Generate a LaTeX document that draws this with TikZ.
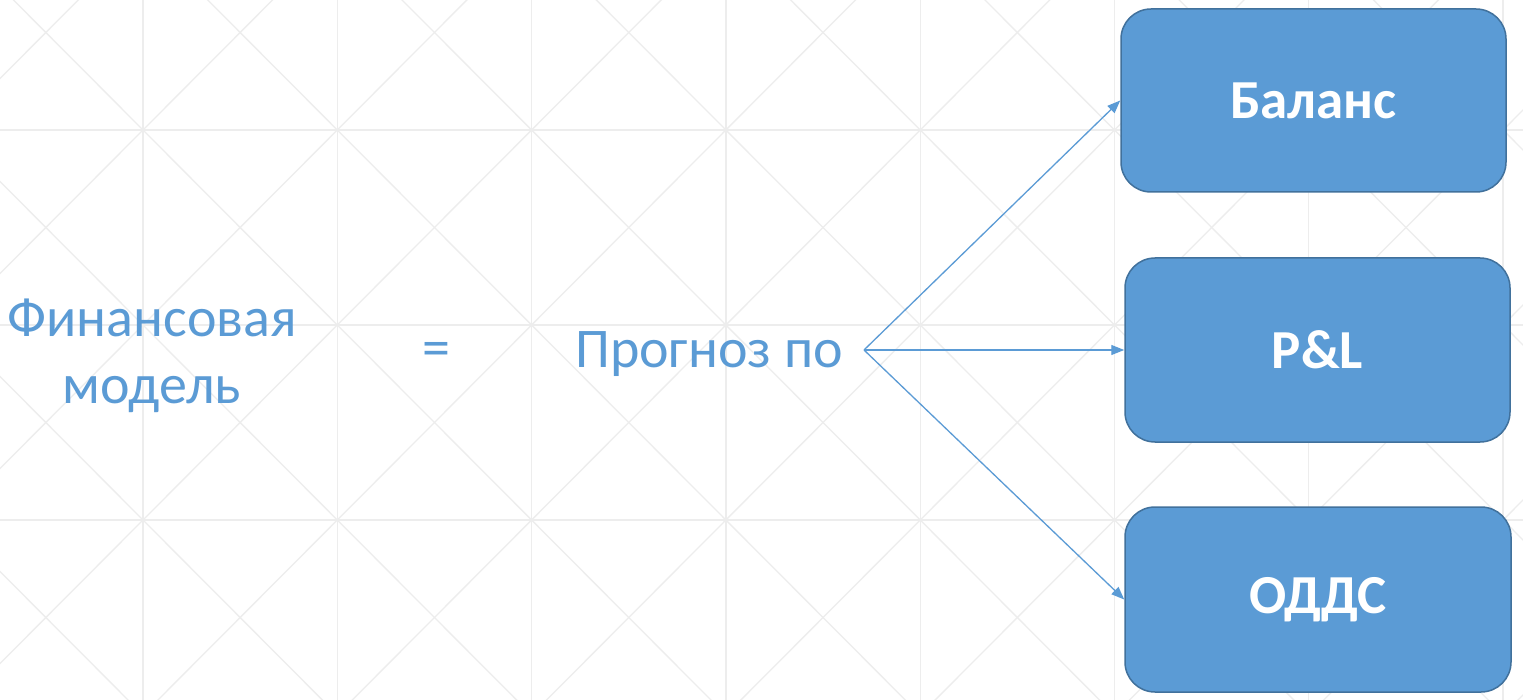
\documentclass[tikz,border=0pt]{standalone}
\usepackage{fontspec}
\setmainfont{Carlito}
\usetikzlibrary{arrows.meta}
\definecolor{accent}{HTML}{5B9BD5}
\definecolor{accentdark}{HTML}{41719C}
\definecolor{gridc}{HTML}{EDEDED}
\tikzset{
  box/.style={draw=accentdark, line width=1.5pt, fill=accent, rounded corners=30pt,
    text=white, font=\fontsize{55}{64}\selectfont\bfseries, inner sep=0pt},
  bluetext/.style={text=accent, font=\fontsize{56}{67}\selectfont, align=center, inner sep=0pt},
  conn/.style={draw=accent, line width=1.3pt, -{Triangle[length=13pt,width=10pt]}},
  bggrid/.style={draw=gridc, line width=1.3pt}
}
\begin{document}
\begin{tikzpicture}[x=1pt,y=-1pt]
\useasboundingbox (0,0) rectangle (1523,700);
\fill[white] (0,0) rectangle (1523,700);
\begin{scope}
\clip (0,0) rectangle (1523,700);
\foreach \i in {-1,...,7}{
  \pgfmathsetmacro{\xa}{143+194.3*\i}
  \pgfmathsetmacro{\xb}{143+194.3*(\i+1)}
  \draw[bggrid] (\xa,-100) -- (\xa,800);
  \foreach \j in {-1,...,3}{
    \pgfmathsetmacro{\ya}{130+195*\j}
    \pgfmathsetmacro{\yb}{130+195*(\j+1)}
    \draw[bggrid] (\xa,\ya) -- (\xb,\yb);
    \draw[bggrid] (\xb,\ya) -- (\xa,\yb);
  }
}
\foreach \j in {-1,...,3}{
  \pgfmathsetmacro{\ya}{130+195*\j}
  \draw[bggrid] (-100,\ya) -- (1700,\ya);
}
\end{scope}

\node[bluetext] (fm) at (152,356) {Финансовая\\модель};
\node[bluetext] (eq) at (436,354) {=};
\node[bluetext, anchor=west] (prog) at (575,354) {Прогноз по};
\coordinate (src) at (864,350);

\node[box, minimum width=385pt, minimum height=183pt] (b1) at (1313.5,100.5) {Баланс};
\node[box, minimum width=385pt, minimum height=184pt] (b2) at (1317.5,350) {P\&L};
\node[box, minimum width=386pt, minimum height=185pt] (b3) at (1318,599.5) {ОДДС};

\draw[conn] (src) -- (b1.west);
\draw[conn] (src) -- (b2.west);
\draw[conn] (src) -- (b3.west);
\end{tikzpicture}
\end{document}
